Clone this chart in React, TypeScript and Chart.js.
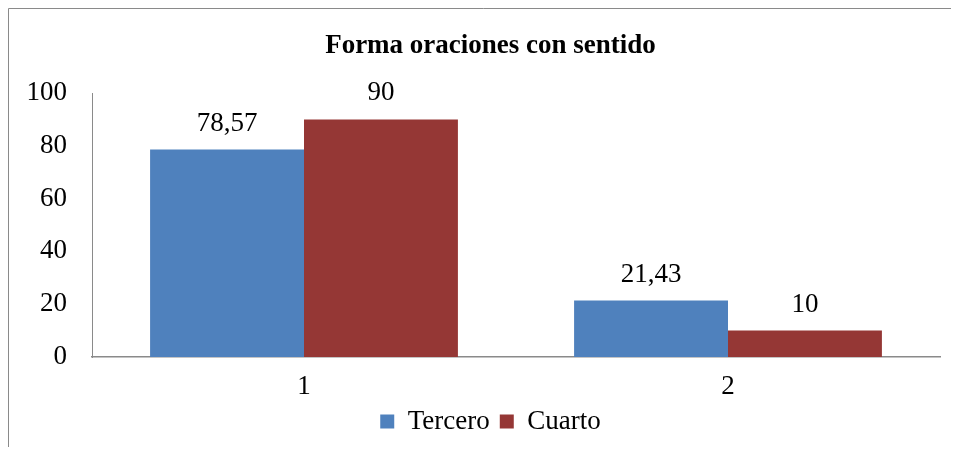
import React, { useEffect, useRef } from "react";
import { Chart, registerables } from "chart.js";

Chart.register(...registerables);

const categories = ["1", "2"];
const seriesNames = ["Tercero", "Cuarto"];
const tercero = [78.57, 21.43];
const cuarto = [90, 10];
const yTicks = [0, 20, 40, 60, 80, 100];
const titleText = "Forma oraciones con sentido";

const FONT = '"Liberation Serif", "Times New Roman", serif';

const framePlugin = {
  id: "frame",
  afterLayout(chart: any) {
    // let the y tick labels extend left of the (narrow) axis box without clipping
    if (chart.scales.y) chart.scales.y.left = 0;
  },
  beforeDraw(chart: any) {
    const ctx = chart.ctx;
    ctx.save();
    ctx.strokeStyle = "#8a8a8a";
    ctx.lineWidth = 1;
    ctx.beginPath();
    ctx.moveTo(0.5, chart.height);
    ctx.lineTo(0.5, 0.5);
    ctx.lineTo(chart.width, 0.5);
    ctx.stroke();
    ctx.restore();
  },
};

const dataLabelPlugin = {
  id: "dataLabels",
  afterDatasetsDraw(chart: any) {
    const ctx = chart.ctx;
    ctx.save();
    ctx.font = `27px ${FONT}`;
    ctx.fillStyle = "#000";
    ctx.textAlign = "center";
    ctx.textBaseline = "middle";
    chart.data.datasets.forEach((ds: any, di: number) => {
      const meta = chart.getDatasetMeta(di);
      meta.data.forEach((el: any, i: number) => {
        const v = ds.data[i];
        const txt = String(v).replace(".", ",");
        ctx.fillText(txt, el.x, el.y - 26);
      });
    });
    ctx.restore();
  },
};

export default function App() {
  const ref = useRef<HTMLCanvasElement | null>(null);
  useEffect(() => {
    document.documentElement.style.overflow = "hidden";
    document.body.style.overflow = "hidden";
    if (!ref.current) return;
    const chart = new Chart(ref.current, {
      type: "bar",
      data: {
        labels: categories,
        datasets: [
          {
            label: seriesNames[0],
            data: tercero,
            backgroundColor: "#4F81BD",
            categoryPercentage: 0.726,
            barPercentage: 1,
          },
          {
            label: seriesNames[1],
            data: cuarto,
            backgroundColor: "#953735",
            categoryPercentage: 0.726,
            barPercentage: 1,
          },
        ],
      },
      options: {
        responsive: false,
        animation: false,
        layout: { padding: { left: 33, right: 19, top: 0, bottom: 10 } },
        plugins: {
          title: {
            display: true,
            text: titleText,
            color: "#000",
            font: { family: FONT, size: 27, weight: "bold" },
            padding: { top: 22, bottom: 30.6 },
          },
          legend: {
            display: true,
            position: "bottom",
            labels: {
              color: "#000",
              font: { family: FONT, size: 27 },
              boxWidth: 14,
              boxHeight: 14,
              padding: 10,
            },
          },
          tooltip: { enabled: false },
        },
        scales: {
          x: {
            grid: { display: false, drawTicks: false },
            border: { display: true, color: "#8a8a8a", width: 1.5 },
            ticks: { color: "#000", font: { family: FONT, size: 27 }, padding: 14 },
            afterFit: (s: any) => {
              s.height = 41;
            },
          },
          y: {
            min: 0,
            max: 100,
            afterBuildTicks: (s: any) => {
              s.ticks = yTicks.map((v) => ({ value: v }));
            },
            grid: { display: false, drawTicks: false },
            border: { display: true, color: "#8a8a8a", width: 1 },
            ticks: { color: "#000", font: { family: FONT, size: 27 }, padding: 25 },
            afterFit: (s: any) => {
              s.width = 51;
            },
          },
        },
      },
      plugins: [framePlugin, dataLabelPlugin],
    });
    return () => chart.destroy();
  }, []);

  return (
    <div style={{ width: 943, height: 439, overflow: "visible" }}>
      <canvas ref={ref} width={951} height={447} style={{ display: "block" }} />
    </div>
  );
}
